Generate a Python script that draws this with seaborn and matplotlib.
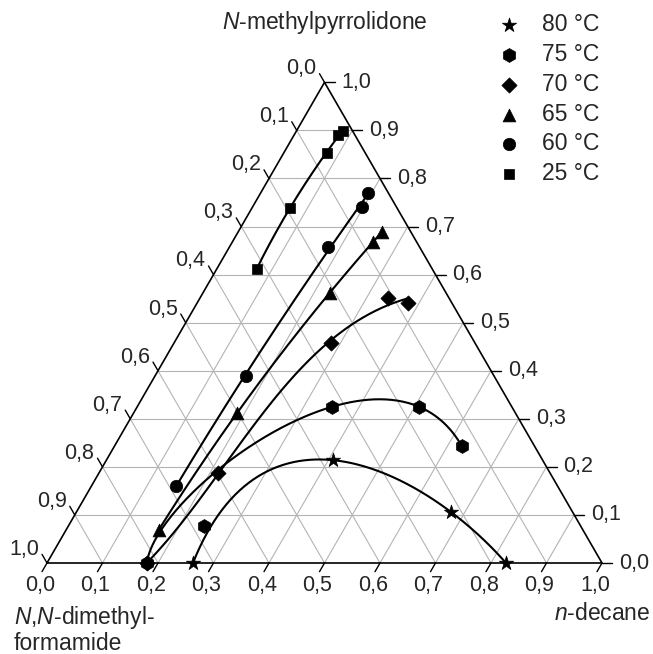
import numpy as np
import pandas as pd
import matplotlib
matplotlib.use("Agg")
import matplotlib.pyplot as plt
import seaborn as sns

# Composições (fração): n-decano e NMP; DMF = 1 - decano - NMP
temperaturas = ["80 °C", "75 °C", "70 °C", "65 °C", "60 °C", "25 °C"]
marcadores = ["*", "h", "D", "^", "o", "s"]

decano_80 = [0.263, 0.408, 0.675, 0.827]
nmp_80 = [0.000, 0.214, 0.106, 0.000]
decano_75 = [0.180, 0.351, 0.508, 0.626, 0.244]
nmp_75 = [0.000, 0.325, 0.325, 0.243, 0.077]
decano_70 = [0.180, 0.215, 0.283, 0.339, 0.380]
nmp_70 = [0.000, 0.187, 0.458, 0.551, 0.541]
decano_65 = [0.167, 0.186, 0.229, 0.253, 0.259]
nmp_65 = [0.069, 0.312, 0.562, 0.668, 0.689]
decano_60 = [0.152, 0.164, 0.177, 0.197, 0.193]
nmp_60 = [0.160, 0.389, 0.658, 0.741, 0.770]
decano_25 = [0.072, 0.068, 0.078, 0.079, 0.084]
nmp_25 = [0.612, 0.739, 0.853, 0.891, 0.899]

# pontos que nao entram na curva ajustada
fora_curva = {"75 °C": [4]}
# grau do ajuste de cada curva
grau_curva = {"80 °C": 3, "75 °C": 3, "70 °C": 3, "65 °C": 2, "60 °C": 2, "25 °C": 2}

ticks = np.round(np.arange(0, 1.01, 0.1), 1)
titulo_topo = r"$\mathit{N}$-methylpyrrolidone"
titulo_esq = "$\\mathit{N}$,$\\mathit{N}$-dimethyl-\nformamide"
titulo_dir = r"$\mathit{n}$-decane"

series = {
    "80 °C": (decano_80, nmp_80),
    "75 °C": (decano_75, nmp_75),
    "70 °C": (decano_70, nmp_70),
    "65 °C": (decano_65, nmp_65),
    "60 °C": (decano_60, nmp_60),
    "25 °C": (decano_25, nmp_25),
}

H = np.sqrt(3) / 2


def para_xy(decano, nmp):
    decano = np.asarray(decano, dtype=float)
    nmp = np.asarray(nmp, dtype=float)
    return decano + 0.5 * nmp, H * nmp


def curva(x, y, grau=3, n=200):
    # ajuste parametrico pelo comprimento de corda
    t = np.concatenate([[0], np.cumsum(np.hypot(np.diff(x), np.diff(y)))])
    t = t / t[-1]
    g = min(grau, len(x) - 1)
    tt = np.linspace(0, 1, n)
    return np.polyval(np.polyfit(t, x, g), tt), np.polyval(np.polyfit(t, y, g), tt)


sns.set_style("white")
plt.rcParams["font.family"] = ["Liberation Sans", "DejaVu Sans"]
plt.rcParams["mathtext.fontset"] = "custom"
plt.rcParams["mathtext.rm"] = "Liberation Sans"
plt.rcParams["mathtext.it"] = "Liberation Sans:italic"

u = 1 / 555  # um pixel em unidades do triangulo
fig = plt.figure(figsize=(6.53, 6.54), dpi=100)
ax = fig.add_axes([0, 0, 1, 1])
ax.axis("off")

# grade
cinza = "#b4b4b4"
for v in ticks[1:-1]:
    for d, n_ in [([0, 1 - v], [v, v]), ([v, v], [0, 1 - v]), ([1 - v, 0], [0, 1 - v])]:
        gx, gy = para_xy(d, n_)
        ax.plot(gx, gy, color=cinza, lw=0.8, zorder=1)

# bordas
bx, by = para_xy([0, 1, 0, 0], [0, 0, 1, 0])
ax.plot(bx, by, color="black", lw=1.2, zorder=2)

# marcas e rotulos
L = 10 * u
for v in ticks:
    txt = f"{v:.1f}".replace(".", ",")
    # base: n-decano
    x0, y0 = para_xy(v, 0)
    x1, y1 = x0 - 0.5 * L, y0 - H * L
    ax.plot([x0, x1], [y0, y1], color="black", lw=1.0)
    ax.text(x1 - 2 * u, -22 * u, txt, ha="center", va="center", fontsize=15.5)
    # direita: NMP
    x0, y0 = para_xy(1 - v, v)
    x1, y1 = x0 + L, y0
    ax.plot([x0, x1], [y0, y1], color="black", lw=1.0)
    ax.text(x1 + 7 * u, y1, txt, ha="left", va="center", fontsize=15.5)
    # esquerda: DMF
    x0, y0 = para_xy(0, 1 - v)
    x1, y1 = x0 - 0.5 * L, y0 + H * L
    ax.plot([x0, x1], [y0, y1], color="black", lw=1.0)
    ax.text(x1 - 3 * u, y1 + 5 * u, txt, ha="right", va="center", fontsize=15.5)

ax.text(0.5, 541 * u, titulo_topo, ha="center", va="center", fontsize=16.5)
ax.text(603 * u, -50 * u, titulo_dir, ha="right", va="center", fontsize=16.5)
ax.text(-33 * u, -41 * u, titulo_esq, ha="left", va="top", fontsize=16.5, linespacing=1.08)

tamanhos = {"*": 115, "h": 100, "D": 60, "^": 85, "o": 80, "s": 60}
for temp, m in zip(temperaturas, marcadores):
    d, n_ = series[temp]
    x, y = para_xy(d, n_)
    df = pd.DataFrame({"x": x, "y": y})
    sns.scatterplot(data=df, x="x", y="y", marker=m, s=tamanhos[m], color="black",
                    edgecolor="black", linewidth=0.5, label=temp, ax=ax, zorder=4)
    usar = [i for i in range(len(x)) if i not in fora_curva.get(temp, [])]
    cx, cy = curva(x[usar], y[usar], grau_curva[temp])
    ax.plot(cx, cy, color="black", lw=1.5, zorder=3)

ax.set_xlim(-47 * u, 606 * u)
ax.set_ylim(-91 * u, 563 * u)
ax.legend(loc="upper left", bbox_to_anchor=(498 / 653, 1 - 13 / 654),
          bbox_transform=fig.transFigure, frameon=False, fontsize=16.5,
          handlelength=1.0, handletextpad=0.9, labelspacing=0.3, borderpad=0,
          borderaxespad=0)

fig.savefig("out.png", dpi=100)
